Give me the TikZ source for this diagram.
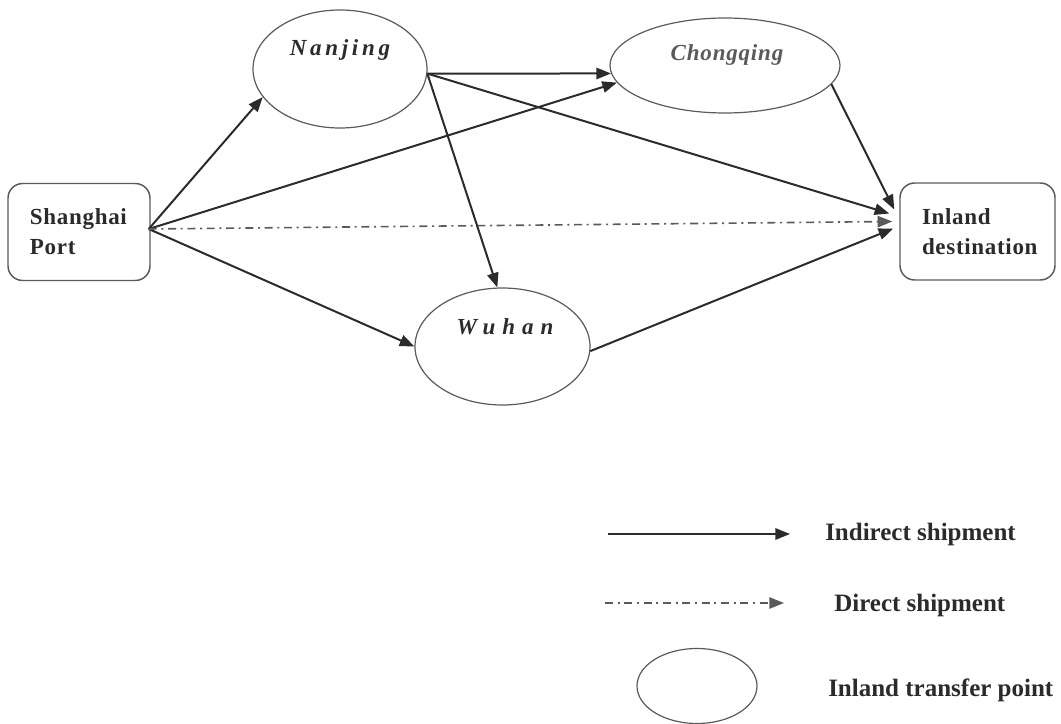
\documentclass[tikz,border=0pt]{standalone}
\usepackage{fontspec}
\setmainfont{Liberation Serif}
\usetikzlibrary{arrows.meta,calc,shapes.geometric}
\definecolor{ink}{HTML}{2B2B2B}
\definecolor{rim}{HTML}{5A5A5A}
\begin{document}
\begin{tikzpicture}[x=0.75pt,y=-0.75pt,
 city/.style={ellipse, draw=rim, line width=0.9pt, inner sep=0pt},
 cityname/.style={text=ink, inner sep=0pt, font=\fontsize{17.25}{20}\selectfont\bfseries\itshape},
 endbox/.style={draw=rim, line width=1.1pt, rounded corners=11pt, align=left, text=ink, inner xsep=16.5pt, font=\fontsize{17.25}{22.5}\selectfont\bfseries, minimum height=72.75pt},
 flow/.style={draw=ink, line width=1.5pt, -{Triangle[length=11pt,width=8.5pt]}},
 direct/.style={draw=rim, line width=1.2pt, dash pattern=on 6pt off 3.5pt on 1.5pt off 3.5pt, -{Triangle[length=11pt,width=8.5pt]}},
 legtext/.style={anchor=west, text=ink, inner sep=0pt, font=\fontsize{18.75}{22}\selectfont\bfseries}]
\useasboundingbox (0,0) rectangle (1061,724);

% boxes
\node[endbox, text width=73.5pt] (sh) at (79,232) {\addfontfeatures{LetterSpace=3}Shanghai\\Port};
\node[endbox, text width=83.25pt] (dest) at (977.5,231.5) {\addfontfeatures{LetterSpace=3}Inland\\destination};

% transfer points
\node[city, minimum width=130.5pt, minimum height=88.5pt] (nj) at (340,69) {};
\node[cityname] (njt) at (340,50) {\addfontfeatures{LetterSpace=16}Nanjing};
\node[city, minimum width=172.5pt, minimum height=71.25pt] (cq) at (725,65.5) {};
\node[cityname, text=rim] (cqt) at (727,55) {\addfontfeatures{LetterSpace=3.5}Chongqing};
\node[city, minimum width=131.25pt, minimum height=87.75pt] (wh) at (502.5,346.5) {};
\node[cityname] (wht) at (505,327) {\addfontfeatures{LetterSpace=30}Wuhan};

% connector ends
\coordinate (so) at ($(sh.east)+(-2,-3)$);
\coordinate (dnj) at ($(dest.west)+(-10,-18)$);
\coordinate (dcq) at ($(dest.west)+(-5,-22)$);
\coordinate (ddr) at ($(dest.west)+(-7,-10)$);
\coordinate (dwh) at ($(dest.west)+(-6,-3)$);

% connectors
\draw[flow] (so) -- (nj.200);
\draw[flow] (so) -- (cq.189);
\draw[flow] (so) -- (wh.180);
\draw[direct] (so) -- (ddr);
\draw[flow] (nj.-3) -- (cq.184);
\draw[flow] (nj.-3) -- (dnj);
\draw[flow] (nj.-3) -- (wh.95);
\draw[flow] (cq.-10) -- (dcq);
\draw[flow] (wh.-3) -- (dwh);

% legend
\coordinate (l1a) at (608,534);
\coordinate (l1b) at (790,534);
\draw[flow] (l1a) -- (l1b);
\node[legtext] (l1t) at (825,534) {Indirect shipment};
\coordinate (l2a) at (605,603);
\coordinate (l2b) at (784,603);
\draw[direct] (l2a) -- (l2b);
\node[legtext] (l2t) at (834,605) {Direct shipment};
\node[city, minimum width=90pt, minimum height=56.25pt] (l3) at (697,686) {};
\node[legtext] (l3t) at (828,690) {Inland transfer point};
\end{tikzpicture}
\end{document}
